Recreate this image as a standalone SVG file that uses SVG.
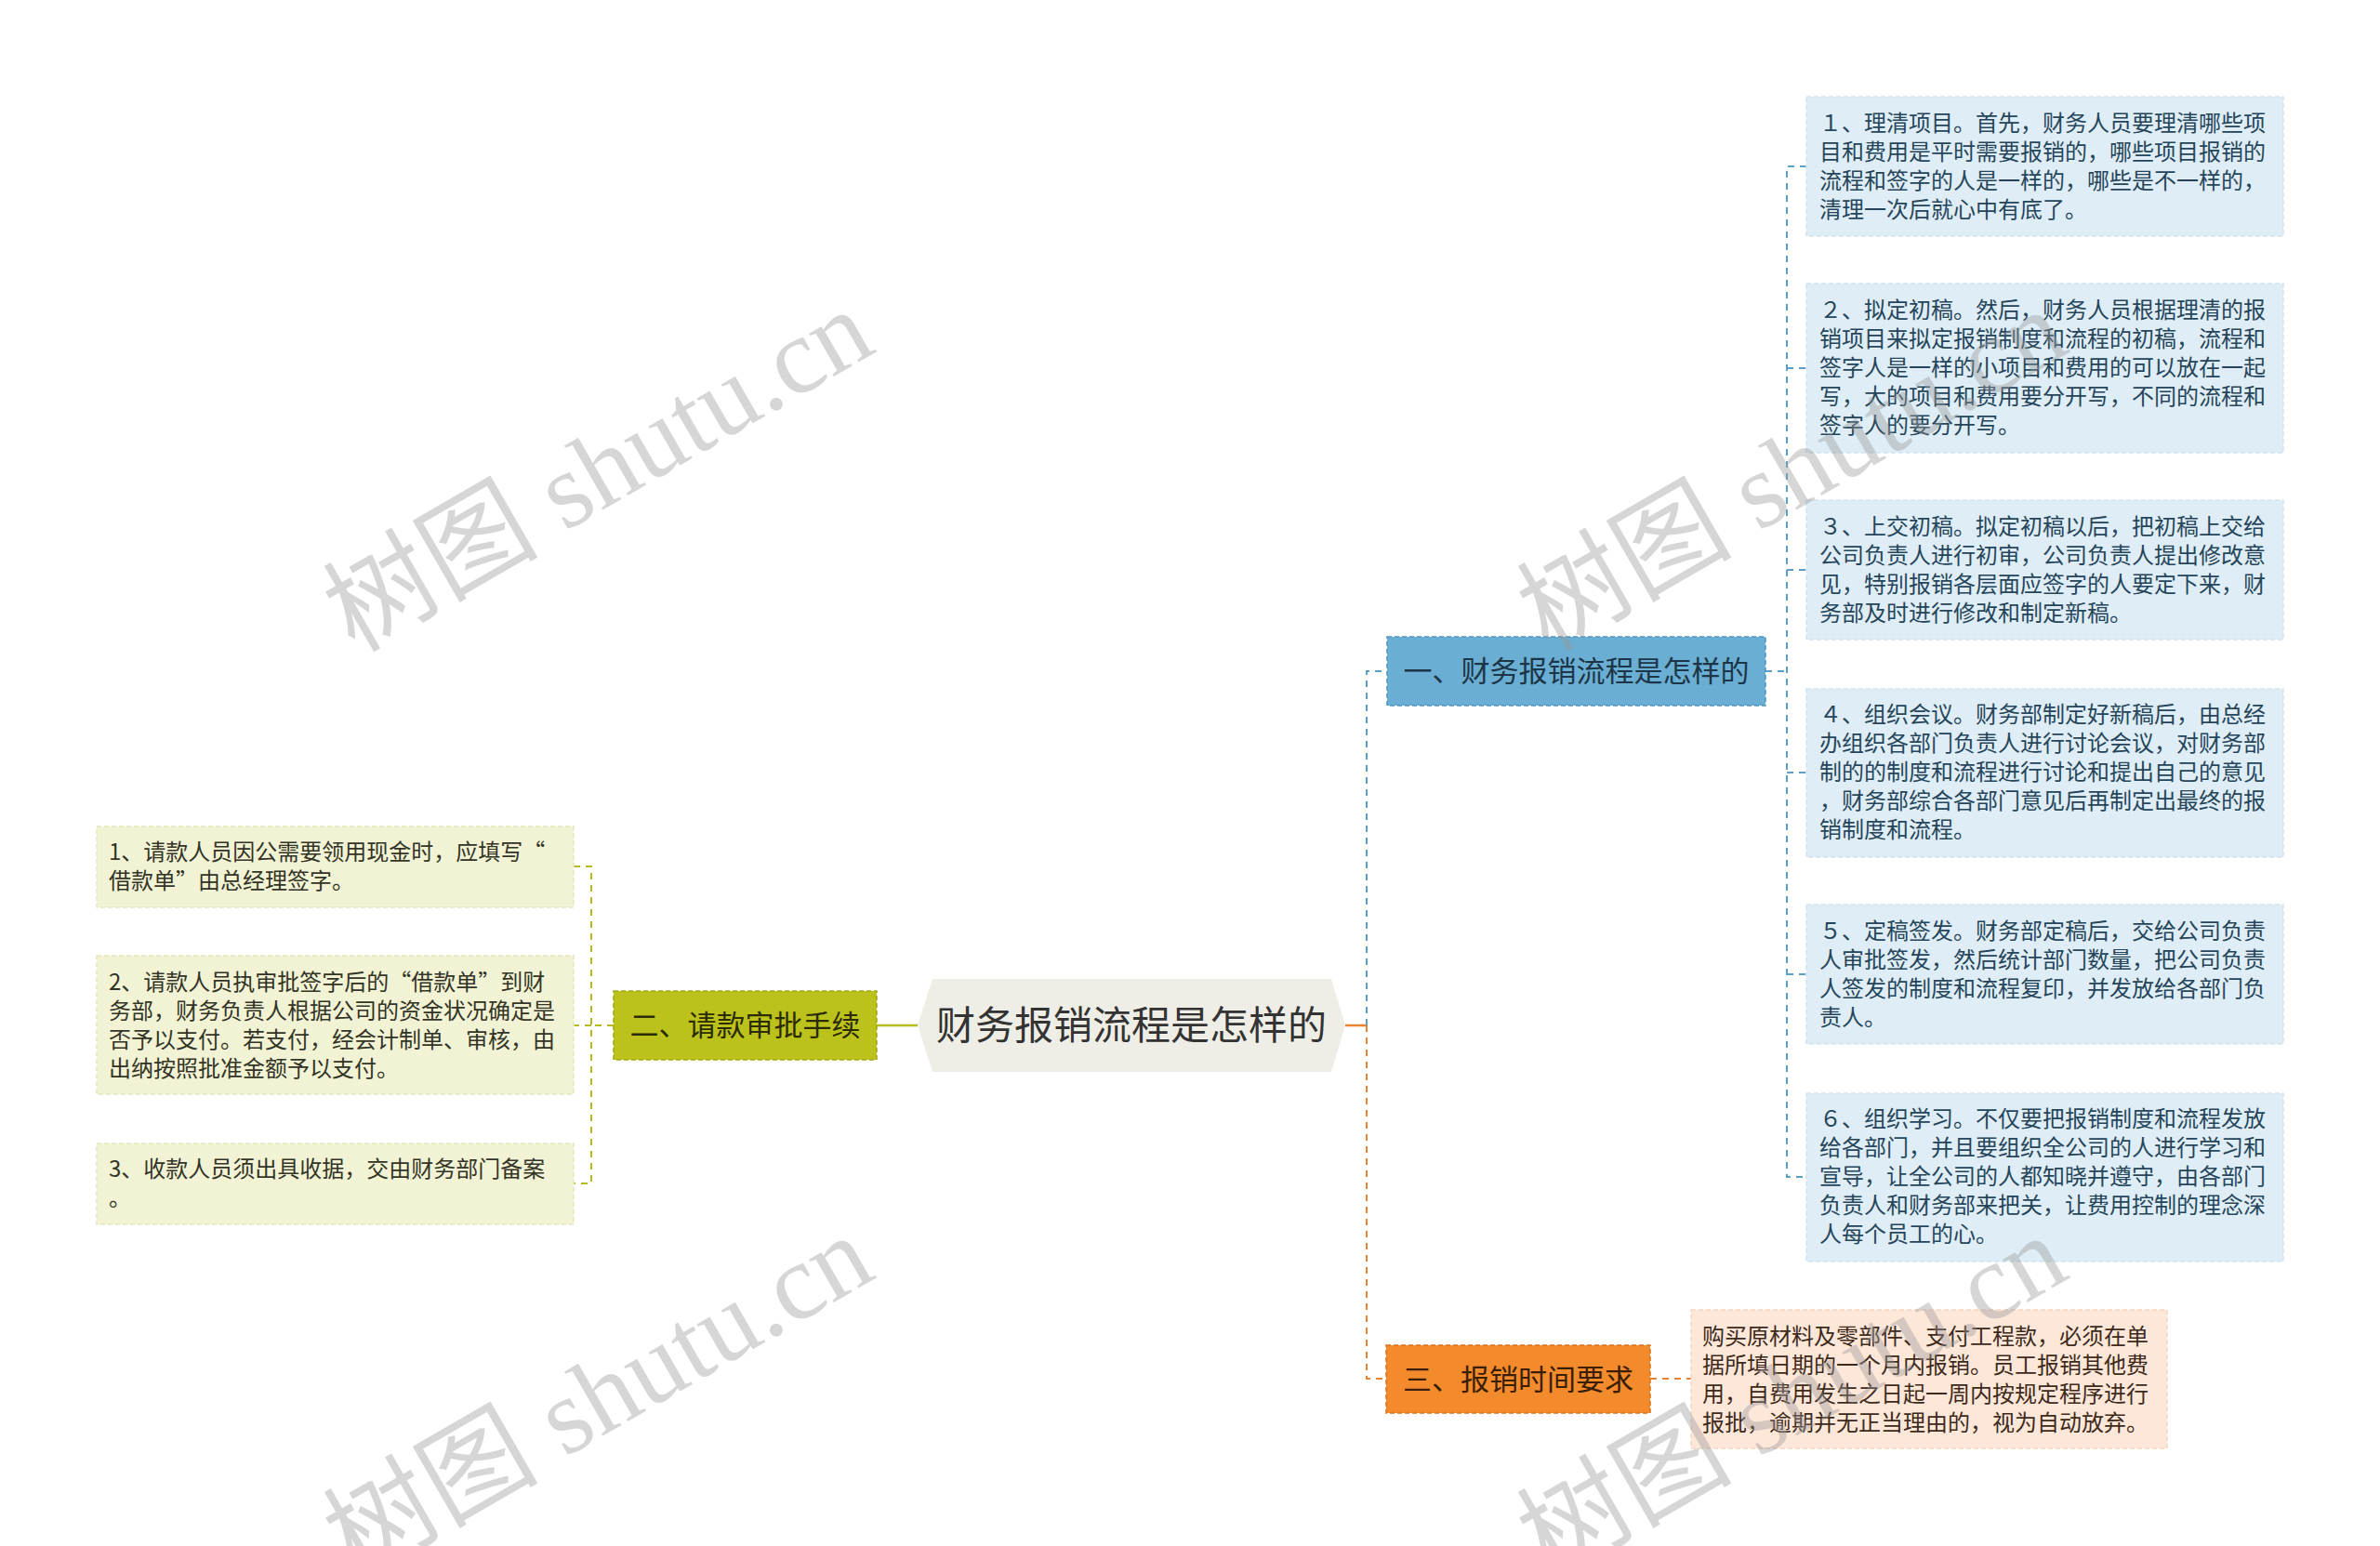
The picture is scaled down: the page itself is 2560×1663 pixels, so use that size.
<svg xmlns="http://www.w3.org/2000/svg" width="2560" height="1663" viewBox="0 0 2560 1663">
<style>
text{font-family:"Noto Sans CJK SC","Noto Sans",sans-serif;}
.leaf{font-size:24px;}
.bl{fill:#deedf6;stroke:#cfe3ef;stroke-width:1.5;stroke-dasharray:5 3;}
.gl{fill:#f1f3d4;stroke:#e3e7bd;stroke-width:1.5;stroke-dasharray:5 3;}
.ol{fill:#fde7d9;stroke:#f6d6c2;stroke-width:1.5;stroke-dasharray:5 3;}
.bt{fill:#26455a;}
.gt{fill:#333326;}
.ot{fill:#3d2a1a;}
.br{font-size:31px;}
.c-b{fill:none;stroke:#5b9fc8;stroke-width:2;stroke-dasharray:7 6;}
.c-g{fill:none;stroke:#b5bb1f;stroke-width:2;stroke-dasharray:7 6;}
.c-o{fill:none;stroke:#e8842f;stroke-width:2;stroke-dasharray:7 6;}
.wm{font-family:"Liberation Serif","Noto Sans CJK SC",serif;font-size:116px;fill:#999;fill-opacity:0.4;}
</style>
<rect width="2560" height="1663" fill="#ffffff"/>

<g id="connectors">
  <line x1="943" y1="1103" x2="987" y2="1103" stroke="#b5bb1f" stroke-width="2.5"/>
  <line x1="1447" y1="1103" x2="1470" y2="1103" stroke="#e8842f" stroke-width="2.5"/>
  <path class="c-b" d="M1470 1103 V722 H1492"/>
  <path class="c-o" d="M1470 1103 V1483 H1491"/>
  <path class="c-g" d="M660 1103 H636"/>
  <path class="c-g" d="M617 932 H636 V1273 H617 M636 1103 H617"/>
  <path class="c-b" d="M1899 722 H1922"/>
  <path class="c-b" d="M1943 179 H1922 V1266 H1943 M1922 396 H1943 M1922 613 H1943 M1922 831 H1943 M1922 1048 H1943"/>
  <path class="c-o" d="M1775 1483 H1819"/>
</g>

<g id="center">
  <polygon points="987,1103 1003,1053 1432,1053 1447,1103 1432,1153 1003,1153" fill="#efeee6"/>
  <text x="1217" y="1118" font-size="42" text-anchor="middle" fill="#333333">财务报销流程是怎样的</text>
</g>

<g id="branch1">
  <rect x="1492" y="685" width="407" height="74" fill="#6aaed3" stroke="#4f96bf" stroke-width="1.5" stroke-dasharray="5 3"/>
  <text class="br" x="1695.5" y="733" text-anchor="middle" fill="#1c3547">一、财务报销流程是怎样的</text>
</g>

<g id="branch2">
  <rect x="660" y="1066" width="283" height="74" fill="#bcc21c" stroke="#a0a712" stroke-width="1.5" stroke-dasharray="5 3"/>
  <text class="br" x="801.5" y="1114" text-anchor="middle" fill="#2b2b05">二、请款审批手续</text>
</g>

<g id="branch3">
  <rect x="1491" y="1447" width="284" height="73" fill="#f38b2c" stroke="#d9731a" stroke-width="1.5" stroke-dasharray="5 3"/>
  <text class="br" x="1633" y="1495" text-anchor="middle" fill="#3a1e05">三、报销时间要求</text>
</g>

<g id="leaf-b1">
  <rect class="bl" x="1943" y="104" width="513" height="150"/>
  <text class="leaf bt"><tspan x="1957" y="141">１、理清项目。首先，财务人员要理清哪些项</tspan><tspan x="1957" y="172">目和费用是平时需要报销的，哪些项目报销的</tspan><tspan x="1957" y="203">流程和签字的人是一样的，哪些是不一样的，</tspan><tspan x="1957" y="234">清理一次后就心中有底了。</tspan></text>
</g>
<g id="leaf-b2">
  <rect class="bl" x="1943" y="305" width="513" height="182"/>
  <text class="leaf bt"><tspan x="1957" y="342">２、拟定初稿。然后，财务人员根据理清的报</tspan><tspan x="1957" y="373">销项目来拟定报销制度和流程的初稿，流程和</tspan><tspan x="1957" y="404">签字人是一样的小项目和费用的可以放在一起</tspan><tspan x="1957" y="435">写，大的项目和费用要分开写，不同的流程和</tspan><tspan x="1957" y="466">签字人的要分开写。</tspan></text>
</g>
<g id="leaf-b3">
  <rect class="bl" x="1943" y="538" width="513" height="150"/>
  <text class="leaf bt"><tspan x="1957" y="575">３、上交初稿。拟定初稿以后，把初稿上交给</tspan><tspan x="1957" y="606">公司负责人进行初审，公司负责人提出修改意</tspan><tspan x="1957" y="637">见，特别报销各层面应签字的人要定下来，财</tspan><tspan x="1957" y="668">务部及时进行修改和制定新稿。</tspan></text>
</g>
<g id="leaf-b4">
  <rect class="bl" x="1943" y="741" width="513" height="181"/>
  <text class="leaf bt"><tspan x="1957" y="777">４、组织会议。财务部制定好新稿后，由总经</tspan><tspan x="1957" y="808">办组织各部门负责人进行讨论会议，对财务部</tspan><tspan x="1957" y="839">制的的制度和流程进行讨论和提出自己的意见</tspan><tspan x="1957" y="870">，财务部综合各部门意见后再制定出最终的报</tspan><tspan x="1957" y="901">销制度和流程。</tspan></text>
</g>
<g id="leaf-b5">
  <rect class="bl" x="1943" y="973" width="513" height="150"/>
  <text class="leaf bt"><tspan x="1957" y="1010">５、定稿签发。财务部定稿后，交给公司负责</tspan><tspan x="1957" y="1041">人审批签发，然后统计部门数量，把公司负责</tspan><tspan x="1957" y="1072">人签发的制度和流程复印，并发放给各部门负</tspan><tspan x="1957" y="1103">责人。</tspan></text>
</g>
<g id="leaf-b6">
  <rect class="bl" x="1943" y="1176" width="513" height="181"/>
  <text class="leaf bt"><tspan x="1957" y="1212">６、组织学习。不仅要把报销制度和流程发放</tspan><tspan x="1957" y="1243">给各部门，并且要组织全公司的人进行学习和</tspan><tspan x="1957" y="1274">宣导，让全公司的人都知晓并遵守，由各部门</tspan><tspan x="1957" y="1305">负责人和财务部来把关，让费用控制的理念深</tspan><tspan x="1957" y="1336">人每个员工的心。</tspan></text>
</g>

<g id="leaf-g1">
  <rect class="gl" x="104" y="889" width="513" height="87"/>
  <text class="leaf gt"><tspan x="117" y="925">1、请款人员因公需要领用现金时，应填写“</tspan><tspan x="117" y="956">借款单”由总经理签字。</tspan></text>
</g>
<g id="leaf-g2">
  <rect class="gl" x="104" y="1028" width="513" height="149"/>
  <text class="leaf gt"><tspan x="117" y="1065">2、请款人员执审批签字后的“借款单”到财</tspan><tspan x="117" y="1096">务部，财务负责人根据公司的资金状况确定是</tspan><tspan x="117" y="1127">否予以支付。若支付，经会计制单、审核，由</tspan><tspan x="117" y="1158">出纳按照批准金额予以支付。</tspan></text>
</g>
<g id="leaf-g3">
  <rect class="gl" x="104" y="1230" width="513" height="87"/>
  <text class="leaf gt"><tspan x="117" y="1266">3、收款人员须出具收据，交由财务部门备案</tspan><tspan x="117" y="1297">。</tspan></text>
</g>

<g id="leaf-o1">
  <rect class="ol" x="1819" y="1409" width="512" height="149"/>
  <text class="leaf ot"><tspan x="1831" y="1446">购买原材料及零部件、支付工程款，必须在单</tspan><tspan x="1831" y="1477">据所填日期的一个月内报销。员工报销其他费</tspan><tspan x="1831" y="1508">用，自费用发生之日起一周内按规定程序进行</tspan><tspan x="1831" y="1539">报批，逾期并无正当理由的，视为自动放弃。</tspan></text>
</g>

<g id="watermarks">
  <text class="wm" x="663" y="540" text-anchor="middle" transform="rotate(-30 663 540)">树图 shutu.cn</text>
  <text class="wm" x="663" y="1536" text-anchor="middle" transform="rotate(-30 663 1536)">树图 shutu.cn</text>
  <text class="wm" x="1947" y="540" text-anchor="middle" transform="rotate(-30 1947 540)">树图 shutu.cn</text>
  <text class="wm" x="1947" y="1536" text-anchor="middle" transform="rotate(-30 1947 1536)">树图 shutu.cn</text>
</g>
</svg>
